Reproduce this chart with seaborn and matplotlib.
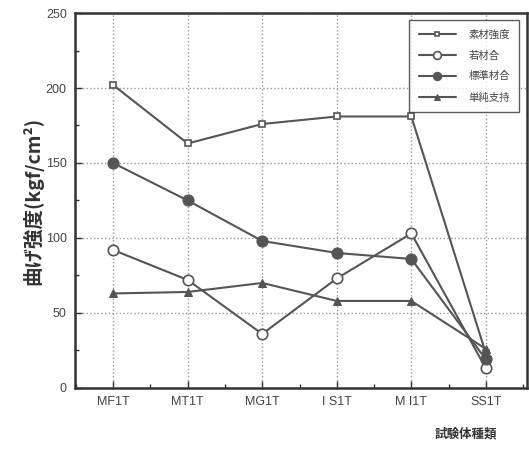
import matplotlib
matplotlib.use("Agg")
import matplotlib.pyplot as plt
import seaborn as sns
import pandas as pd
from matplotlib.ticker import MultipleLocator

categories = ["MF1T", "MT1T", "MG1T", "I S1T", "M I1T", "SS1T"]
sozai = [202, 163, 176, 181, 181, 23]
jakuzai = [92, 72, 36, 73, 103, 13]
hyojun = [150, 125, 98, 90, 86, 19]
tanjun = [63, 64, 70, 58, 58, 26]
series_names = ["素材強度", "若材合", "標準材合", "単純支持"]
series_values = [sozai, jakuzai, hyojun, tanjun]

sns.set_theme(style="white")
plt.rcParams['font.family'] = ['Noto Sans CJK JP', 'DejaVu Sans']

fig = plt.figure(figsize=(5.29, 4.49), dpi=100)
ax = fig.add_axes([0.142, 0.136, 0.854, 0.835])

line_color = "#555555"
styles = [
    dict(marker="s", markersize=4.5, markerfacecolor="white", markeredgecolor=line_color, markeredgewidth=1.2),
    dict(marker="o", markersize=7.5, markerfacecolor="white", markeredgecolor=line_color, markeredgewidth=1.2),
    dict(marker="o", markersize=8, markerfacecolor=line_color, markeredgecolor=line_color),
    dict(marker="^", markersize=5.5, markerfacecolor=line_color, markeredgecolor=line_color),
]

x = list(range(len(categories)))
for name, vals, st in zip(series_names, series_values, styles):
    df = pd.DataFrame({"x": x, "y": vals})
    sns.lineplot(data=df, x="x", y="y", ax=ax, color=line_color, linewidth=1.5,
                 label=name, **st)

ax.set_xlim(-0.51, 5.55)
ax.set_ylim(0, 250)
ax.set_xticks(x)
ax.set_xticklabels(categories, fontsize=9, color="#444444", family=['Liberation Sans', 'DejaVu Sans'])
ax.yaxis.set_major_locator(MultipleLocator(50))
ax.yaxis.set_minor_locator(MultipleLocator(25))
ax.xaxis.set_minor_locator(MultipleLocator(0.5))
for lab in ax.get_yticklabels():
    lab.set_fontsize(9)
    lab.set_color("#444444")
    lab.set_family(['Liberation Sans', 'DejaVu Sans'])
ax.tick_params(axis="both", which="major", direction="in", length=5, width=1, color="#333333",
               bottom=True, left=True, pad=6)
ax.tick_params(axis="both", which="minor", direction="in", length=3, width=1, color="#333333",
               bottom=True, left=True)

ax.grid(True, which="major", linestyle=":", color="#999999", linewidth=1)
for sp in ax.spines.values():
    sp.set_color("#333333")
    sp.set_linewidth(1.8)

ax.set_xlabel("")
ax.set_ylabel("曲げ強度(kgf/cm²)", fontsize=14, fontweight="bold", color="#333333", labelpad=2)
fig.text(0.88, 0.025, "試験体種類", fontsize=9, fontweight="bold", color="#333333", ha="center")

leg = ax.legend(loc="upper right", fontsize=7.5, frameon=True, fancybox=False,
                edgecolor="#333333", handlelength=3.6, labelspacing=1.05,
                borderpad=0.9, handletextpad=1.2, markerscale=0.75,
                bbox_to_anchor=(0.995, 0.995))
leg.get_frame().set_linewidth(1.0)
for t in leg.get_texts():
    t.set_color("#444444")

fig.savefig("out.png", dpi=100)
